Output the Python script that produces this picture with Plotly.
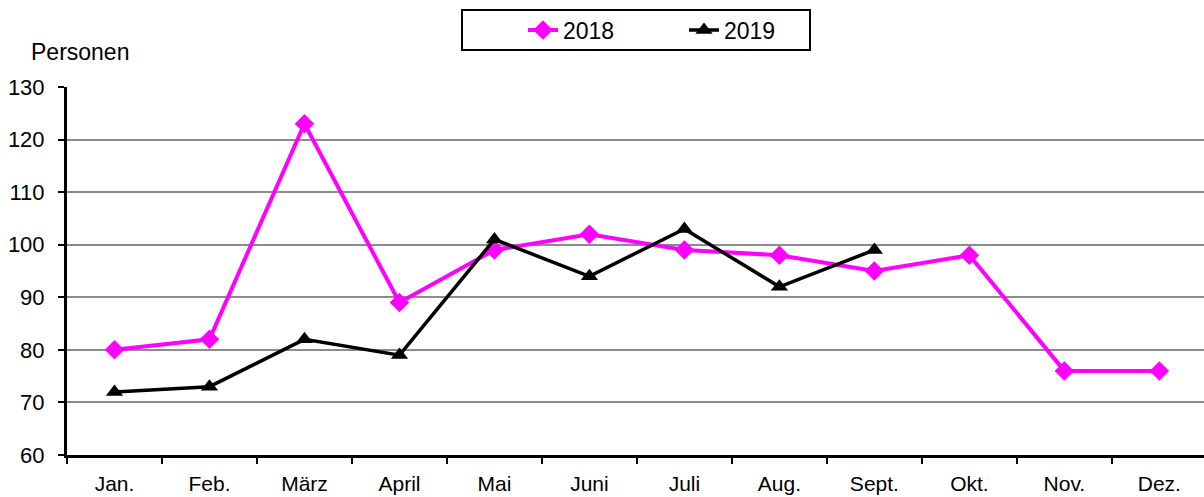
import plotly.graph_objects as go

months = ["Jan.", "Feb.", "März", "April", "Mai", "Juni", "Juli", "Aug.", "Sept.", "Okt.", "Nov.", "Dez."]
v2018 = [80, 82, 123, 89, 99, 102, 99, 98, 95, 98, 76, 76]
v2019 = [72, 73, 82, 79, 101, 94, 103, 92, 99]
y_ticks = [60, 70, 80, 90, 100, 110, 120, 130]

font = "Liberation Sans, Arial, sans-serif"

# layout helpers (pixel geometry of plot area)
L, T, W, H = 67, 87, 1137, 368
def px(x):
    return (x - L) / W
def py(y):
    return 1 + (T - y) / H

fig = go.Figure()
fig.add_trace(go.Scatter(
    x=months, y=v2018, name="2018", mode="lines+markers",
    line=dict(color="#FF00FF", width=4),
    marker=dict(symbol="diamond", size=15, color="#FF00FF"),
))
fig.add_trace(go.Scatter(
    x=months[:len(v2019)], y=v2019, name="2019", mode="lines+markers",
    line=dict(color="#000000", width=3.5),
    marker=dict(symbol="triangle-up", size=15, color="#000000"),
))

fig.update_layout(
    width=1204, height=497,
    margin=dict(l=L, r=0, t=T, b=42),
    paper_bgcolor="white", plot_bgcolor="white",
    font=dict(family=font, size=21, color="black"),
    showlegend=True,
    legend=dict(
        orientation="h", x=px(684), xanchor="center", y=py(30), yanchor="middle",
        borderwidth=0, bgcolor="rgba(0,0,0,0)", font=dict(size=23),
        entrywidth=116,
    ),
    xaxis=dict(
        categoryorder="array", categoryarray=months,
        range=[-0.5, 11.47],
        showgrid=False, showline=True, linecolor="black", linewidth=3,
        ticks="outside", tickson="boundaries", ticklen=6, tickwidth=2, tickcolor="black",
        tickfont=dict(size=21), ticklabelstandoff=8, fixedrange=True,
    ),
    yaxis=dict(
        range=[60, 130], tickvals=y_ticks,
        showgrid=True, gridcolor="#8c8c8c", gridwidth=1.5,
        showline=True, linecolor="black", linewidth=3,
        ticks="outside", ticklen=6, tickwidth=2, tickcolor="black",
        tickfont=dict(size=22), ticklabelstandoff=9, zeroline=False,
    ),
    shapes=[dict(
        type="rect", xref="paper", yref="paper",
        x0=px(462), x1=px(810), y0=py(50), y1=py(10),
        line=dict(color="black", width=2), fillcolor="rgba(0,0,0,0)",
    )],
    annotations=[dict(
        text="Personen", xref="paper", yref="paper",
        x=px(29), y=py(52), xanchor="left", yanchor="middle",
        showarrow=False, font=dict(size=23),
    )],
)

fig.write_html("out.html", config={"displayModeBar": False},
               post_script="document.body.style.margin='0';")
